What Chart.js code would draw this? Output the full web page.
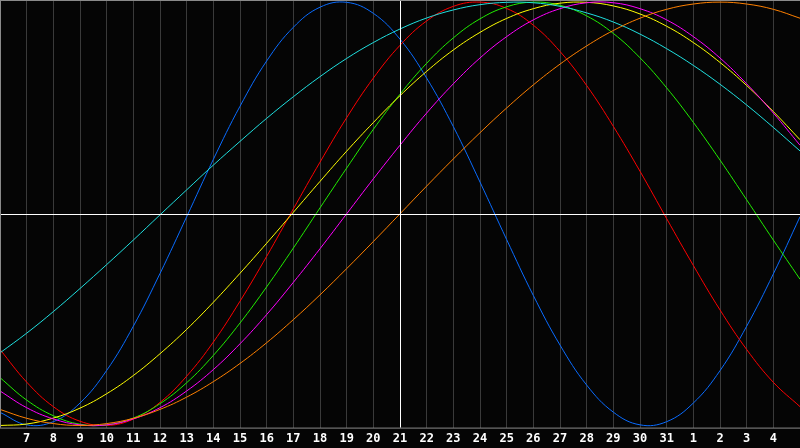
<!DOCTYPE html>
<html><head><meta charset="utf-8">
<script src="https://cdn.jsdelivr.net/npm/chart.js@4"></script>
<style>html,body{margin:0;padding:0;background:#050505}#w{width:800px;height:448px}</style>
</head><body><div id="w"><canvas id="c"></canvas></div>
<script>
const days = [6,7,8,9,10,11,12,13,14,15,16,17,18,19,20,21,22,23,24,25,26,27,28,29,30,31,32,33,34,35,36];
const tickLabels = ["","7","8","9","10","11","12","13","14","15","16","17","18","19","20","21","22","23","24","25","26","27","28","29","30","31","1","2","3","4",""];
const blue = [-0.938,-0.997,-0.982,-0.894,-0.740,-0.531,-0.282,-0.014,0.257,0.508,0.722,0.881,0.976,0.999,0.947,0.825,0.641,0.412,0.150,-0.122,-0.386,-0.620,-0.809,-0.937,-0.997,-0.982,-0.894,-0.741,-0.531,-0.284,-0.014];
const red = [-0.641,-0.795,-0.911,-0.980,-1.000,-0.970,-0.891,-0.767,-0.606,-0.413,-0.201,0.023,0.244,0.454,0.641,0.796,0.911,0.980,1.000,0.970,0.891,0.767,0.606,0.413,0.201,-0.023,-0.244,-0.454,-0.641,-0.796,-0.911];
const green = [-0.774,-0.880,-0.954,-0.994,-0.997,-0.965,-0.897,-0.798,-0.669,-0.516,-0.345,-0.162,0.028,0.216,0.399,0.565,0.711,0.831,0.921,0.978,1.000,0.985,0.935,0.852,0.737,0.595,0.432,0.254,0.066,-0.124,-0.309];
const magenta = [-0.837,-0.916,-0.969,-0.997,-0.997,-0.969,-0.916,-0.837,-0.736,-0.614,-0.476,-0.324,-0.165,0.000,0.165,0.324,0.476,0.614,0.736,0.837,0.916,0.969,0.997,0.997,0.969,0.916,0.837,0.736,0.614,0.476,0.324];
const yellow = [-1.000,-0.993,-0.965,-0.918,-0.850,-0.764,-0.661,-0.546,-0.418,-0.281,-0.139,0.007,0.153,0.296,0.431,0.558,0.673,0.774,0.857,0.923,0.969,0.995,0.999,0.982,0.944,0.886,0.809,0.715,0.606,0.483,0.350];
const orange = [-0.924,-0.966,-0.991,-1.000,-0.991,-0.966,-0.924,-0.866,-0.793,-0.707,-0.609,-0.500,-0.383,-0.259,-0.131,0.000,0.131,0.259,0.383,0.500,0.609,0.707,0.793,0.866,0.924,0.966,0.991,1.000,0.991,0.966,0.924];
const cyan = [-0.657,-0.564,-0.462,-0.353,-0.240,-0.124,-0.005,0.113,0.230,0.342,0.451,0.553,0.648,0.734,0.809,0.873,0.925,0.963,0.988,0.999,0.997,0.980,0.949,0.906,0.849,0.780,0.701,0.612,0.514,0.408,0.297];
const today = 21;

function ds(vals, color){
  return {data: days.map((d,i)=>({x:d,y:vals[i]})), borderColor:color, borderWidth:1, pointRadius:0, tension:0.4, fill:false};
}
const frame = {
  id:'frame',
  beforeDraw(ch){const c=ch.ctx;c.save();c.fillStyle='#050505';c.fillRect(0,0,ch.width,ch.height);c.restore();},
  afterDatasetsDraw(ch){
    const c=ch.ctx,a=ch.chartArea,xs=ch.scales.x,ys=ch.scales.y;
    c.save();c.strokeStyle='#ffffff';c.lineWidth=1;
    const y0=Math.round(ys.getPixelForValue(0))+0.5, x0=Math.round(xs.getPixelForValue(today))+0.5;
    c.beginPath();c.moveTo(a.left,y0);c.lineTo(a.right,y0);c.moveTo(x0,a.top);c.lineTo(x0,a.bottom);c.stroke();
    c.strokeStyle='#8a8a8a';c.beginPath();
    c.moveTo(0,a.top+0.5);c.lineTo(800,a.top+0.5);
    c.moveTo(0.5,a.top);c.lineTo(0.5,a.bottom);
    c.moveTo(0,a.bottom+0.5);c.lineTo(800,a.bottom+0.5);c.stroke();
    c.restore();
  }
};
new Chart(document.getElementById('c'),{
  type:'line',
  data:{datasets:[ds(orange,'#ff8000'),ds(cyan,'#20e0e0'),ds(magenta,'#ff00ff'),ds(yellow,'#ffff00'),ds(green,'#22ee00'),ds(red,'#ff0000'),ds(blue,'#0a6cff')]},
  options:{
    responsive:true,maintainAspectRatio:false,animation:false,
    layout:{padding:{left:0,right:0,top:0,bottom:-2}},
    plugins:{legend:{display:false},tooltip:{enabled:false}},
    scales:{
      x:{type:'linear',min:6,max:36,border:{display:false},
        afterFit(s){s.paddingLeft=0;s.paddingRight=0;},
        grid:{color:'#3a3a3a',drawTicks:false,lineWidth:1},
        ticks:{stepSize:1,autoSkip:false,maxRotation:0,padding:4,color:'#ffffff',font:{family:'DejaVu Sans Mono',size:12,weight:'bold'},
          callback:(v)=>tickLabels[days.indexOf(v)] ?? ''}},
      y:{display:false,min:-1.01,max:1.01}
    }
  },
  plugins:[frame]
});
</script></body></html>
